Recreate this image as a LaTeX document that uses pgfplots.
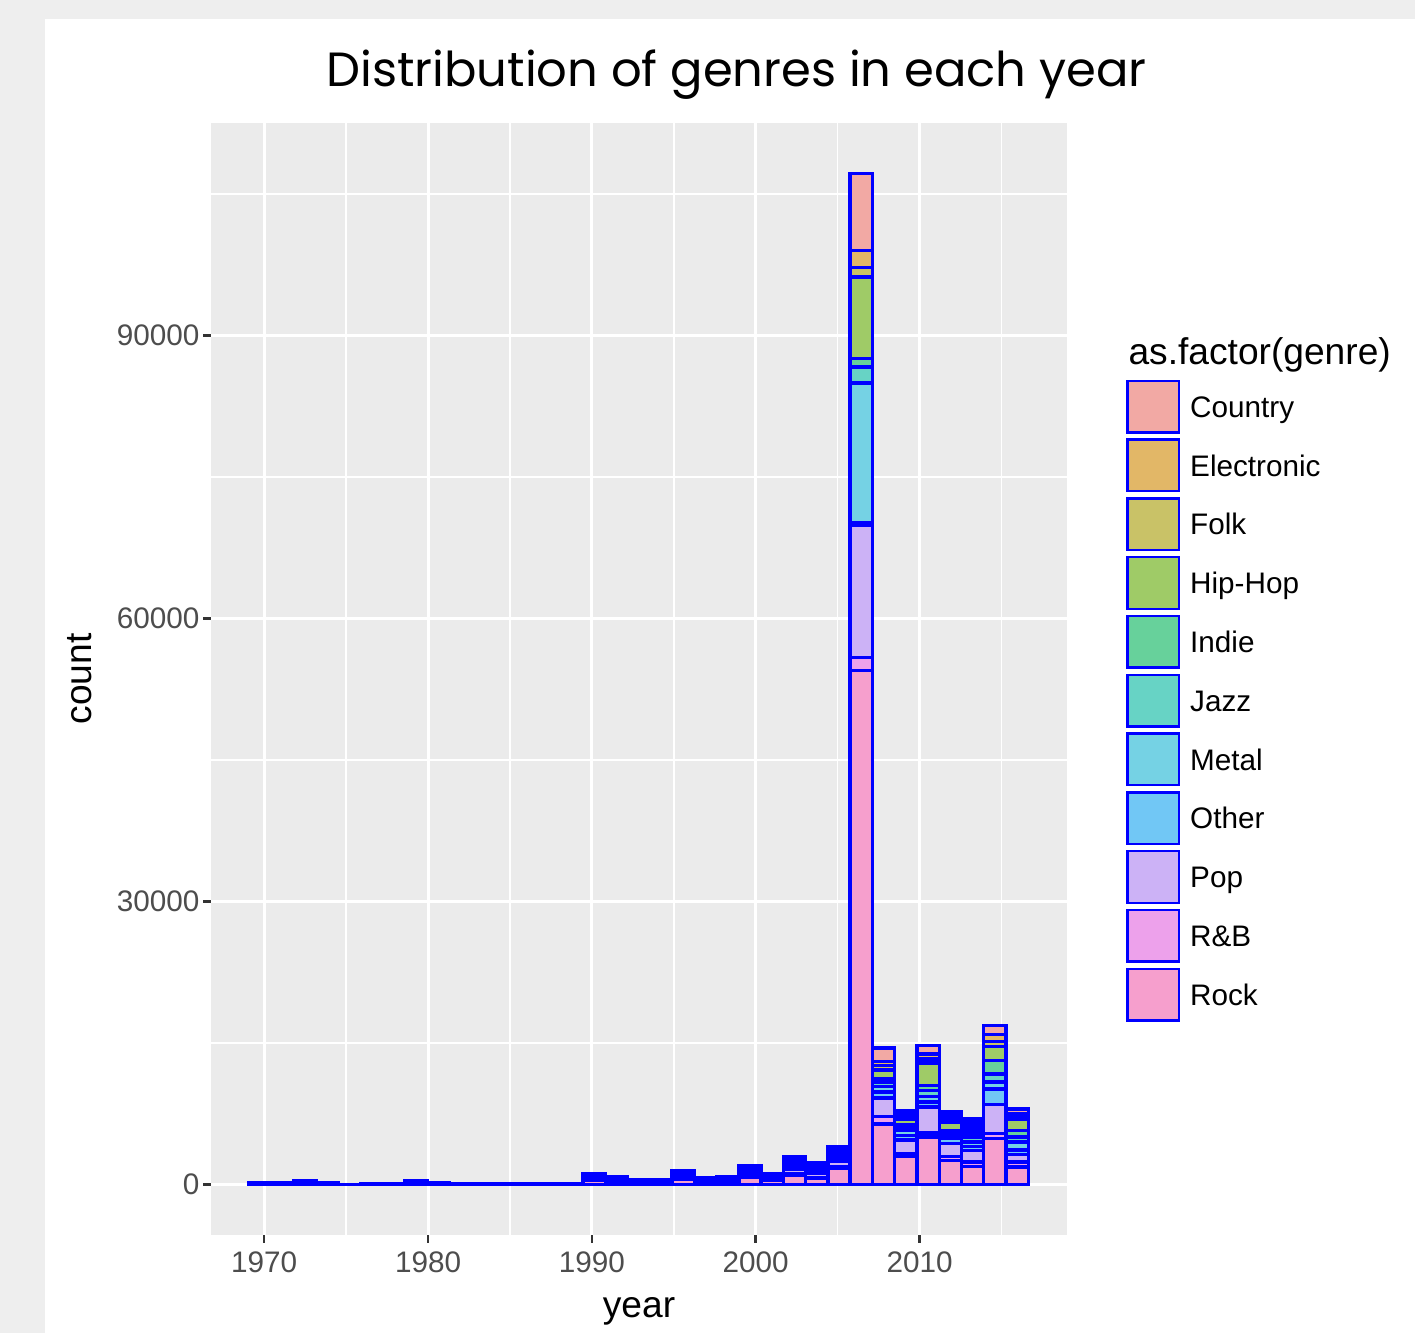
\documentclass[border=0pt]{standalone}
\usepackage{pgfplots}
\pgfplotsset{compat=1.18}
\usepackage{pgfplotstable}
\usepackage{fontspec}
\setmainfont{Liberation Sans}
\newfontfamily\poppins{Poppins}

\definecolor{panelbg}{HTML}{EBEBEB}
\definecolor{outerbg}{HTML}{EEEEEE}
\definecolor{ticklab}{HTML}{4D4D4D}
\definecolor{tickcol}{HTML}{333333}
\definecolor{barline}{HTML}{0000FF}
% ggplot hue palette, 11 levels
\definecolor{hCountry}{HTML}{F8766D}
\definecolor{hElec}{HTML}{DB8E00}
\definecolor{hFolk}{HTML}{AEA200}
\definecolor{hHipHop}{HTML}{64B200}
\definecolor{hIndie}{HTML}{00BD5C}
\definecolor{hJazz}{HTML}{00C1A7}
\definecolor{hMetal}{HTML}{00BADE}
\definecolor{hOther}{HTML}{00A6FF}
\definecolor{hPop}{HTML}{B385FF}
\definecolor{hRnB}{HTML}{EF67EB}
\definecolor{hRock}{HTML}{FF63B6}
\colorlet{fCountry}{hCountry!56!panelbg}
\colorlet{fElec}{hElec!56!panelbg}
\colorlet{fFolk}{hFolk!56!panelbg}
\colorlet{fHipHop}{hHipHop!56!panelbg}
\colorlet{fIndie}{hIndie!56!panelbg}
\colorlet{fJazz}{hJazz!56!panelbg}
\colorlet{fMetal}{hMetal!50!panelbg}
\colorlet{fOther}{hOther!52!panelbg}
\colorlet{fPop}{hPop!56!panelbg}
\colorlet{fRnB}{hRnB!56!panelbg}
\colorlet{fRock}{hRock!56!panelbg}

% counts per year bin (bin width 1.359), one column per genre
\pgfplotstableread{
x        Rock  RnB  Pop   Other Metal Jazz Indie HipHop Folk Elec Country
1969.750 60    8    22    8     15    8    8     8      5    4    4
1971.109 60    8    22    8     15    8    8     8      5    4    4
1972.468 160   20   60    20    40    20   20    20     14   13   13
1973.827 60    8    22    8     15    8    8     8      5    4    4
1975.186 2     0    1     0     1     0    0     1      0    0    0
1976.545 40    5    15    5     10    5    5     5      4    3    3
1977.904 40    5    15    5     10    5    5     5      4    3    3
1979.263 150   20   57    19    38    19   19    19     13   13   13
1980.622 60    8    22    8     15    8    8     8      5    4    4
1981.981 48    6    18    6     12    6    6     6      4    4    4
1983.340 48    6    18    6     12    6    6     6      4    4    4
1984.699 48    6    18    6     12    6    6     6      4    4    4
1986.058 48    6    18    6     12    6    6     6      4    4    4
1987.417 48    6    18    6     12    6    6     6      4    4    4
1988.776 48    6    18    6     12    6    6     6      4    4    4
1990.135 420   60   180   60    120   50   50    70     40   40   40
1991.494 320   40   140   40    90    40   40    50     30   30   30
1992.853 190   25   80    25    55    25   25    30     15   15   15
1994.212 190   25   80    25    55    25   25    30     15   15   15
1995.571 540   70   220   70    150   60   60    90     50   50   50
1996.930 270   35   110   35    75    30   30    50     25   25   25
1998.289 320   40   140   40    90    40   40    50     30   30   30
1999.648 750   100  300   100   200   80   80    130    60   70   70
2001.007 420   60   180   60    120   50   50    70     40   40   40
2002.366 950   150  500   180   300   130  130   230    90   120  120
2003.725 600   120  420   150   260   120  110   190    80   110  100
2005.084 1660  180  620   220   380   160  150   250    100  120  120
2006.443 54470 1410 13970 250   14830 1700 890   8670   1020 1790 8150
2007.802 6420  780  1980  600   600   460  350   950    460  460  1410
2009.161 2970  280  1480  460   530   350  280   600    250  280  290
2010.520 5010  430  2750  530   600   630  530   2370   460  530  880
2011.879 2540  430  1340  530   350   350  180   880    350  360  350
2013.238 1910  460  1230  420   460   530  360   350    350  430  450
2014.597 4840  530  3100  1660  710   880  1410  1480   570  710  950
2015.956 1840  530  810   490   810   530  710   1230   250  350  460
}\genres

\begin{document}
\begin{tikzpicture}[x=1bp,y=1bp]
\fill[outerbg] (0,0) rectangle (1415,1333);
\fill[white] (45,0) rectangle (1415,1314);
\node[anchor=base, font=\poppins\fontsize{48.2}{58}\selectfont] at (736.5,1246) {Distribution of genres in each year};
\begin{axis}[
  at={(211bp,98bp)}, anchor=south west, scale only axis,
  width=856bp, height=1112bp,
  xmin=1966.75, xmax=2019, ymin=-5360, ymax=112510,
  axis background/.style={fill=panelbg},
  axis line style={draw=none},
  ybar stacked, bar width=1.359,
  xtick={1970,1980,...,2010}, ytick={0,30000,60000,90000},
  minor xtick={1975,1985,...,2015}, minor ytick={15000,45000,75000,105000},
  grid=both,
  major grid style={draw=white, line width=3bp},
  minor grid style={draw=white, line width=1.6bp},
  tick pos=left, tick align=outside,
  major tick length=8bp, minor tick length=0pt,
  tick style={draw=tickcol, line width=2.5bp},
  tick label style={font=\fontsize{29.8}{36}\selectfont, text=ticklab},
  xticklabel style={yshift=-5bp},
  /pgf/number format/assume math mode=true,
  /pgf/number format/1000 sep={},
  scaled y ticks=false,
  xlabel={year}, ylabel={count},
  label style={font=\fontsize{37.3}{44}\selectfont},
  xlabel style={at={(axis description cs:0.5,-0.0746)}, anchor=base},
  ylabel style={at={(axis description cs:-0.140,0.5)}, anchor=base},
  legend image code/.code={
    \path[draw=none, fill=none] (0bp,-29.4bp) rectangle (64bp,29.4bp);
    \draw[#1, line width=2.4bp] (1.2bp,-25.8bp) rectangle (52.8bp,25.8bp);
  },
  reverse legend,
  legend cell align=left,
  legend style={at={(axis description cs:1.0689,0.7716)}, anchor=north west,
    draw=none, fill=none, inner sep=0pt, row sep=0pt,
    font=\fontsize{29.8}{36}\selectfont,
    nodes={inner sep=0pt, text height=21.3bp, text depth=0pt}},
  every axis plot/.append style={draw=barline, line width=3.4bp},
]
\addplot[fill=fRock]    table[x=x, y=Rock]    {\genres};
\addplot[fill=fRnB]     table[x=x, y=RnB]     {\genres};
\addplot[fill=fPop]     table[x=x, y=Pop]     {\genres};
\addplot[fill=fOther]   table[x=x, y=Other]   {\genres};
\addplot[fill=fMetal]   table[x=x, y=Metal]   {\genres};
\addplot[fill=fJazz]    table[x=x, y=Jazz]    {\genres};
\addplot[fill=fIndie]   table[x=x, y=Indie]   {\genres};
\addplot[fill=fHipHop]  table[x=x, y=HipHop]  {\genres};
\addplot[fill=fFolk]    table[x=x, y=Folk]    {\genres};
\addplot[fill=fElec]    table[x=x, y=Elec]    {\genres};
\addplot[fill=fCountry] table[x=x, y=Country] {\genres};
\legend{Rock,R\&B,Pop,Other,Metal,Jazz,Indie,Hip-Hop,Folk,Electronic,Country}
\end{axis}
\node[anchor=base west, font=\fontsize{37.3}{44}\selectfont] at (1125,968) {as.factor(genre)};
\end{tikzpicture}
\end{document}
